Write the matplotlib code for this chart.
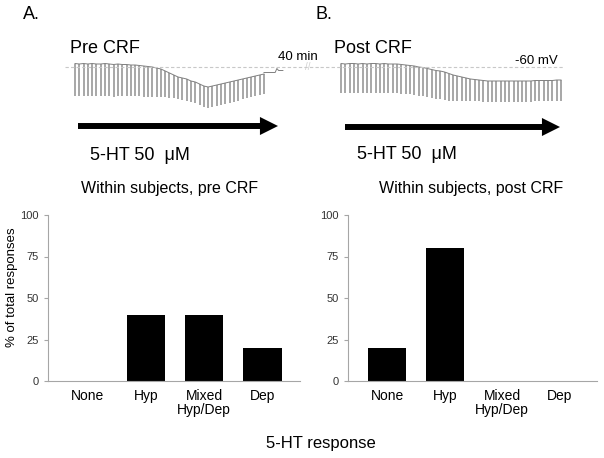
import matplotlib.pyplot as plt
from matplotlib.patches import FancyArrowPatch

plt.rcParams['font.family'] = ['Liberation Sans', 'DejaVu Sans']

W, H = 604, 458

# barras
categorias = ['None', 'Hyp', 'Mixed\nHyp/Dep', 'Dep']
pre_crf = [0, 40, 40, 20]
post_crf = [20, 80, 0, 0]

# registros: potencial al inicio de cada barrido (mV) y tamaño del pulso hiperpolarizante (mV)
pre_base = [-58.6, -58.8, -58.6, -58.8, -58.6, -58.8, -58.8, -58.6, -58.8, -59.0, -58.8,
            -59.0, -59.0, -59.2, -59.2, -59.4, -59.6, -59.8, -60.0,
            -60.4, -60.8, -61.6, -62.4, -63.2, -64.0,
            -64.4, -64.8, -65.6, -66.0, -66.8, -67.6,
            -68.0, -67.6,
            -67.2, -66.8, -66.4, -66.0, -65.6, -65.2, -64.8, -64.4, -64.0, -63.6, -63.2, -62.8]
pre_paso = [12.8, 12.8, 12.8, 12.8, 12.8, 12.8, 12.8, 12.8, 12.8, 12.8, 12.8,
            12.6, 12.6, 12.4, 12.4, 12.2, 12.2, 12.0, 12.0,
            11.6, 11.0, 10.4, 9.8, 9.2, 8.8,
            8.6, 8.6, 8.4, 8.4, 8.4, 8.4,
            8.2, 8.2,
            8.2, 8.2, 8.2, 8.2, 8.2, 8.2, 8.0, 8.0, 8.0, 8.0, 8.0, 8.0]
# trazo despues del ultimo barrido (indice de barrido, mV)
pre_cola_t = [44, 46.6, 47.0, 47.4, 48.4]
pre_cola_v = [-62.2, -62.2, -60.6, -61.4, -61.4]

post_base = [-58.6, -58.8, -58.6, -58.6, -58.8, -58.6, -58.8, -58.6, -58.6, -58.8, -58.6, -58.8, -58.8, -58.8,
             -59.0, -59.2, -59.4, -59.6, -60.0,
             -60.2, -60.6, -61.0, -61.4, -61.6, -62.0, -62.6, -63.2, -63.6, -64.0, -64.4, -64.8,
             -65.0, -65.2,
             -65.4, -65.6, -65.6, -65.6, -65.6, -65.6, -65.6, -65.6, -65.6, -65.6, -65.6, -65.6,
             -65.4, -65.4, -65.4, -65.4, -65.4, -65.2, -65.2]
post_paso = [11.6, 11.6, 11.6, 11.6, 11.6, 11.6, 11.6, 11.6, 11.6, 11.6, 11.6, 11.6, 11.6, 11.6,
             11.6, 11.6, 11.4, 11.4, 11.4,
             11.4, 11.4, 11.2, 11.2, 11.2, 11.2, 10.8, 10.4, 10.0, 9.6, 9.2, 8.8,
             8.6, 8.4,
             8.4, 8.4, 8.4, 8.4, 8.4, 8.4, 8.4, 8.4, 8.4, 8.4, 8.4, 8.4,
             8.2, 8.2, 8.2, 8.2, 8.2, 8.2, 8.2]


def caja(x0, y0, x1, y1):
    # pixeles (origen arriba a la izquierda) -> fraccion de figura
    return [x0 / W, 1 - y1 / H, (x1 - x0) / W, (y1 - y0) / H]


def txt(x, y, s, **kw):
    fig.text(x / W, 1 - y / H, s, **kw)


def flecha(x0, x1, y):
    a = FancyArrowPatch((x0 / W, 1 - y / H), (x1 / W, 1 - y / H), transform=fig.transFigure,
                        arrowstyle='simple,head_length=1.0,head_width=1.0,tail_width=0.33',
                        mutation_scale=13, color='black', lw=0, shrinkA=0, shrinkB=0)
    fig.add_artist(a)


def registro(ax, base, paso, xlim, linea):
    for i, (b, p) in enumerate(zip(base, paso)):
        ax.plot([i, i], [b, b - p], color='#a0a0a0', lw=1.3, solid_capstyle='butt')
    ax.plot(range(len(base)), base, color='#808080', lw=0.7)
    ax.axhline(-60, xmin=linea[0], xmax=linea[1], color='#c8c8c8', lw=0.8, dashes=(3, 2))
    ax.set_xlim(*xlim)
    ax.set_ylim(-78, -55.2)
    ax.axis('off')


def barras(ax, valores):
    ax.bar(range(len(valores)), valores, width=0.66, color='black')
    ax.set_xlim(-0.68, 3.645)
    ax.set_ylim(0, 100)
    ax.set_yticks([0, 25, 50, 75, 100])
    ax.set_xticks(range(len(categorias)))
    ax.set_xticklabels(categorias, fontsize=10, linespacing=1.0)
    for s in ['top', 'right']:
        ax.spines[s].set_visible(False)
    for s in ['left', 'bottom']:
        ax.spines[s].set_color('#a6a6a6')
        ax.spines[s].set_linewidth(0.8)
    ax.tick_params(axis='y', labelsize=8, labelcolor='#333333', color='#a6a6a6', length=3, width=0.8)
    ax.tick_params(axis='x', length=0, pad=6)


fig = plt.figure(figsize=(W / 100, H / 100), dpi=100)

ax1 = fig.add_axes(caja(60, 55, 320, 112))
registro(ax1, pre_base, pre_paso, (-3.49, 57.04), (0.019, 1.0))
ax1.plot(pre_cola_t, pre_cola_v, color='#808080', lw=0.7)

ax2 = fig.add_axes(caja(320, 55, 600, 112))
registro(ax2, post_base, post_paso, (-4.87, 60.04), (0.0, 0.868))

ax3 = fig.add_axes(caja(48, 215, 300, 381))
barras(ax3, pre_crf)
ax4 = fig.add_axes(caja(348, 215, 597, 381))
barras(ax4, post_crf)

txt(23, 19, 'A.', fontsize=13)
txt(315, 19, 'B.', fontsize=13)
txt(70, 53, 'Pre CRF', fontsize=13)
txt(334, 53, 'Post CRF', fontsize=13)
txt(278, 60, '40 min', fontsize=9.5)
txt(515, 64, '-60 mV', fontsize=9.5)
txt(305, 70, '//', fontsize=7, color='#d0d0d0')
flecha(78, 278, 126)
flecha(345, 560, 127)
txt(90, 160, '5-HT 50  \u03bcM', fontsize=13)
txt(357, 159, '5-HT 50  \u03bcM', fontsize=13)
txt(170, 193, 'Within subjects, pre CRF', fontsize=11.5, ha='center')
txt(471, 193, 'Within subjects, post CRF', fontsize=11.5, ha='center')
txt(12, 287, '% of total responses', fontsize=9.5, rotation=90, ha='center', va='center')
txt(321, 448, '5-HT response', fontsize=12, ha='center')

fig.savefig('out.png', dpi=100)
